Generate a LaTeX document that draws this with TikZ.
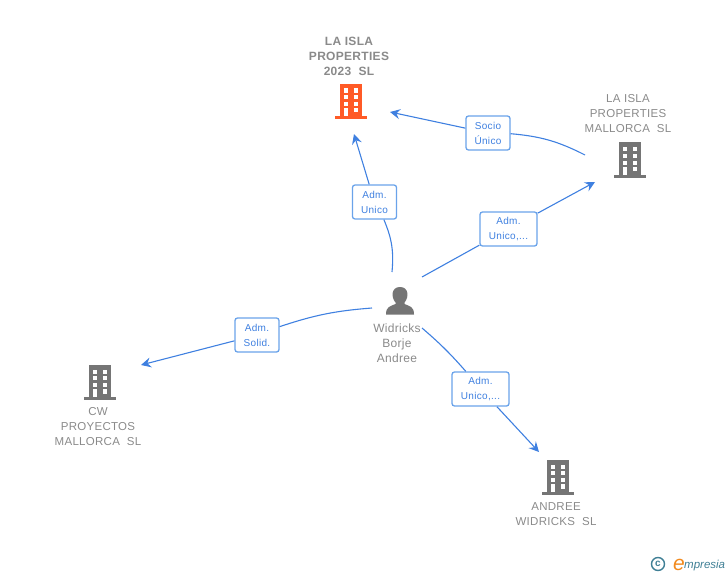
\documentclass[tikz,border=0pt]{standalone}
\usepackage{fontspec}
\setmainfont{Liberation Sans}
\newfontfamily\entfont[LetterSpace=2.5]{Liberation Sans}
\newfontfamily\lblfont[LetterSpace=3]{Liberation Sans}
\usetikzlibrary{arrows.meta}
\definecolor{linkblue}{HTML}{3F80E0}
\definecolor{boxblue}{HTML}{6AA3EA}
\definecolor{txtgray}{HTML}{8A8A8A}
\definecolor{icongray}{HTML}{757575}
\definecolor{iconred}{HTML}{FF5A26}
\definecolor{logoteal}{HTML}{3F7F95}
\definecolor{logoorange}{HTML}{F28A1E}
\tikzset{
    conn/.style={draw=linkblue,line width=1.1pt},
    tip/.style={conn,-{Stealth[length=10pt,width=10pt,inset=3.5pt]}},
    lbl/.style={draw=boxblue,line width=1.3pt,fill=white,rounded corners=2.5pt,text=linkblue,
                font=\lblfont\fontsize{10}{15}\selectfont,align=center,minimum height=34pt,inner sep=0pt},
    ent/.style={text=txtgray,font=\entfont\fontsize{11.5}{15}\selectfont,align=center,inner sep=0pt},
    building/.pic={
        \fill (-11,-17.5) rectangle (11,16);
        \fill (-16,14.5) rectangle (16,17.5);
        \foreach \wy in {-13,-6.5,0.5} {
            \fill[white] (-7.5,\wy) rectangle (-3,\wy+4.3);
            \fill[white] (2.5,\wy) rectangle (7,\wy+4.3);
        }
        \fill[white] (-7.5,6.5) rectangle (-3,14.5);
        \fill[white] (2.5,6.5) rectangle (7,11);
    },
    person/.pic={
        \fill (-14,14) .. controls (-14,6) and (-10,6) .. (-4.5,3.5) -- (-4.5,2)
            .. controls (-9,-3) and (-9,-13.5) .. (0,-13.5) .. controls (9,-13.5) and (9,-3) .. (4.5,2)
            -- (4.5,3.5) .. controls (10,6) and (14,6) .. (14,14) -- cycle;
    }
}
\begin{document}
\begin{tikzpicture}[x=1pt,y=-1pt]
    \useasboundingbox (0,0) rectangle (728,575);

    % Entities
    \pic[fill=iconred] at (351,101.5) {building};
    \pic[fill=icongray] at (630,160) {building};
    \pic[fill=icongray] at (100,382.5) {building};
    \pic[fill=icongray] at (558,477.5) {building};
    \pic[fill=icongray] at (400,300.5) {person};

    \node[ent,font=\entfont\fontsize{12}{15}\selectfont\bfseries] (isla) at (349,56) {LA ISLA\\PROPERTIES\\2023~~SL};
    \node[ent] (mallorca) at (628,114) {LA ISLA\\PROPERTIES\\MALLORCA~~SL};
    \node[ent] (cw) at (98,427) {CW\\PROYECTOS\\MALLORCA~~SL};
    \node[ent] (andree) at (556,514.5) {ANDREE\\WIDRICKS~~SL};
    \node[ent,font=\entfont\fontsize{12}{15}\selectfont] (widricks) at (397,343) {Widricks\\Borje\\Andree};

    % Connector ends
    \coordinate (c-top) at (392,272);
    \coordinate (c-right) at (422,277);
    \coordinate (c-left) at (372,308);
    \coordinate (c-down) at (422,328);
    \coordinate (c-soc) at (585,155);
    \coordinate (t-top) at (354,134);
    \coordinate (t-right) at (595,182);
    \coordinate (t-left) at (141,365);
    \coordinate (t-down) at (539,452);
    \coordinate (t-soc) at (390,112);

    % Labels
    \node[lbl,minimum width=44pt] (l-soc) at (488,133) {Socio\\Único};
    \node[lbl,minimum width=44pt] (l-top) at (374.5,202) {Adm.\\Unico};
    \node[lbl,minimum width=57pt] (l-right) at (508.5,229) {Adm.\\Unico,...};
    \node[lbl,minimum width=44pt] (l-left) at (257,335) {Adm.\\Solid.};
    \node[lbl,minimum width=57pt] (l-down) at (480.5,389) {Adm.\\Unico,...};

    % Connectors
    \draw[conn] (c-top) to[bend right=14] (l-top);
    \draw[tip] (l-top) -- (t-top);
    \draw[conn] (c-right) -- (l-right);
    \draw[tip] (l-right) -- (t-right);
    \draw[conn] (c-soc) to[bend right=11] (l-soc);
    \draw[tip] (l-soc) -- (t-soc);
    \draw[conn] (c-left) to[bend right=7] (l-left);
    \draw[tip] (l-left) -- (t-left);
    \draw[conn] (c-down) to[bend left=4] (l-down);
    \draw[tip] (l-down) -- (t-down);

    % Logo
    \node[draw=logoteal,line width=1.4pt,circle,minimum size=13pt,inner sep=0pt,text=logoteal,font=\bfseries\fontsize{10}{10}\selectfont] (logo-c) at (658,564) {c};
    \node[inner sep=0pt,anchor=base west,font=\fontsize{11.5}{12}\selectfont\itshape,text=logoteal] (logo) at (684,568)
        {mpresia};
    \node[inner sep=0pt,anchor=base east,font=\fontsize{21}{21}\selectfont\itshape,text=logoorange] (logo-e) at (685,570) {e};
\end{tikzpicture}
\end{document}
